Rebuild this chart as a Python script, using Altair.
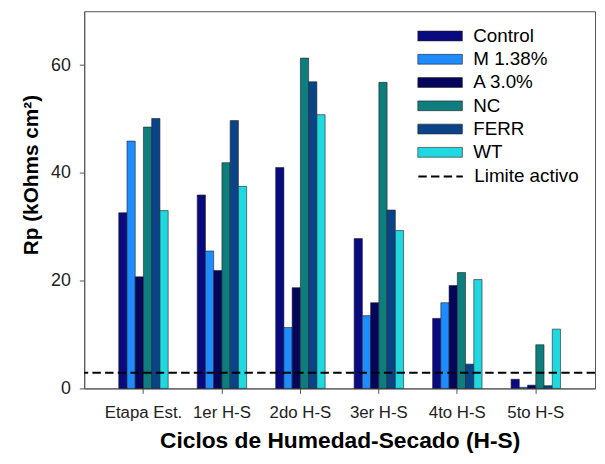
import altair as alt
import pandas as pd

categories = ["Etapa Est.", "1er H-S", "2do H-S", "3er H-S", "4to H-S", "5to H-S"]
series = ["Control", "M 1.38%", "A 3.0%", "NC", "FERR", "WT"]
control = [32.6, 35.9, 41.0, 27.8, 13.0, 1.7]
m138 = [45.9, 25.5, 11.3, 13.5, 15.9, 0.2]
a30 = [20.7, 21.9, 18.7, 15.9, 19.1, 0.6]
nc = [48.5, 41.9, 61.3, 56.8, 21.5, 8.1]
ferr = [50.1, 49.7, 56.9, 33.1, 4.5, 0.5]
wt = [33.0, 37.5, 50.8, 29.3, 20.2, 11.0]
limit_value = [2.9]
limit_label = ["Limite activo"]
colors = ["#0a0a80", "#1e8cff", "#05055c", "#0d7d7d", "#0a4388", "#1fd8e0"]

values = [control, m138, a30, nc, ferr, wt]
rows = []
for s, vals in zip(series, values):
    for c, v in zip(categories, vals):
        rows.append({"cycle": c, "series": s, "rp": v})
df = pd.DataFrame(rows)
limit_df = pd.DataFrame({"y": limit_value, "label": limit_label})

FONT = "Liberation Sans"
RECT = "M-2.5,-0.55H2.5V0.55H-2.5Z"
LINE = "M-2.5,0H2.5"

bars = alt.Chart(df).mark_bar(stroke="#222", strokeWidth=0.6).encode(
    x=alt.X("cycle:N", sort=categories,
            scale=alt.Scale(paddingInner=0.37, paddingOuter=0.44),
            axis=alt.Axis(title="Ciclos de Humedad-Secado (H-S)", labelAngle=0,
                          labelFontSize=17, titleFontSize=23, titlePadding=10,
                          tickSize=5, labelPadding=11)),
    xOffset=alt.XOffset("series:N", sort=series),
    y=alt.Y("rp:Q", scale=alt.Scale(domain=[0, 70], nice=False),
            axis=alt.Axis(title="Rp (kOhms cm²)", values=[0, 20, 40, 60],
                          labelFontSize=18, titleFontSize=21, titlePadding=9,
                          titleY=165,
                          tickSize=5, labelPadding=9)),
    color=alt.Color("series:N", sort=series,
                    scale=alt.Scale(domain=series, range=colors),
                    legend=alt.Legend(title=None, orient="none", legendX=350, legendY=15.5,
                                      symbolType=RECT, symbolSize=324,
                                      symbolStrokeColor="#222", symbolStrokeWidth=0.6,
                                      symbolOpacity=1, rowPadding=3.5, labelOffset=24,
                                      labelFontSize=19, labelColor="black")),
)

rule = alt.Chart(limit_df).mark_rule(color="black", strokeWidth=2.2).encode(
    y="y:Q",
    strokeDash=alt.StrokeDash("label:N",
                              scale=alt.Scale(domain=limit_label, range=[[8.5, 4.3]]),
                              legend=alt.Legend(title=None, orient="none", legendX=350, legendY=157,
                                                symbolType=LINE, symbolSize=324,
                                                symbolFillColor="transparent",
                                                symbolStrokeColor="black", symbolStrokeWidth=2,
                                                labelOffset=24, labelFontSize=19,
                                                labelColor="black")),
)

chart = alt.layer(bars, rule).resolve_legend(color="independent", strokeDash="independent").properties(
    width=516, height=381,
    padding={"left": 12, "top": 1, "right": 0, "bottom": 0},
).configure(font=FONT).configure_axis(
    grid=False, domainColor="#555", tickColor="#555", labelColor="#222",
    titleColor="black", titleFontWeight="bold", labelFont=FONT, titleFont=FONT,
).configure_view(stroke="#555")

chart.save("out.html", embed_options={"renderer": "svg", "actions": False})
